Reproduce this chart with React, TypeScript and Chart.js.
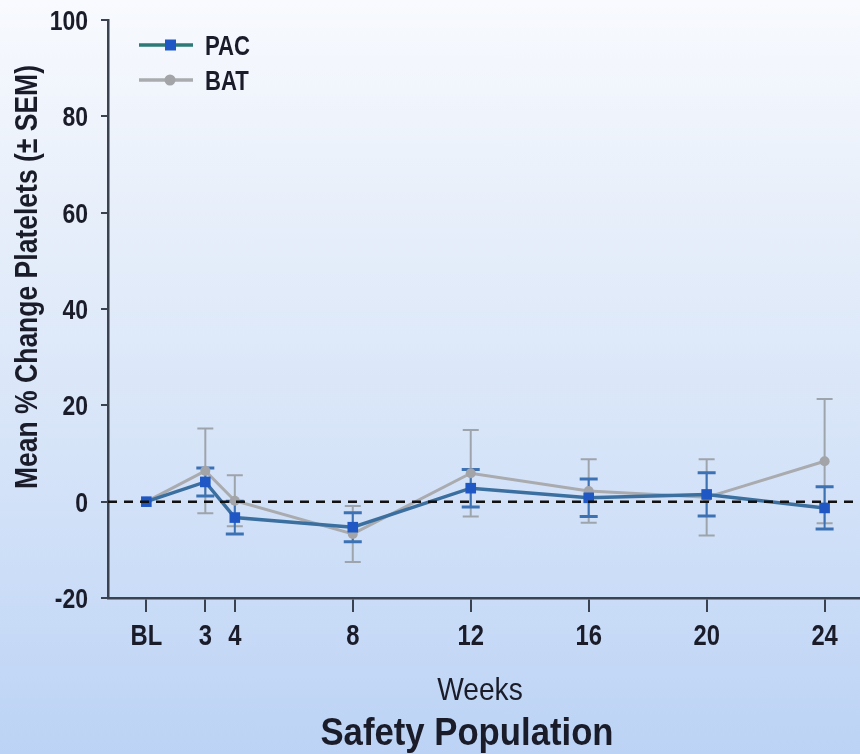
import { useEffect, useRef } from "react";
import { Chart, registerables } from "chart.js";

Chart.register(...registerables);

// Visit labels and where each one sits on the week axis (baseline is plotted at week 1)
const weekLabels = ["BL", "3", "4", "8", "12", "16", "20", "24"];
const weekAxisValues = [1, 3, 4, 8, 12, 16, 20, 24];

// Mean % change in platelets from baseline, with SEM
const pacMean = [0, 4.1, -3.3, -5.3, 2.8, 0.8, 1.5, -1.3];
const pacSem = [0, 2.9, 3.4, 3.0, 3.9, 3.9, 4.5, 4.4];
const batMean = [0, 6.4, 0.2, -6.7, 5.9, 2.2, 0.9, 8.4];
const batSem = [0, 8.8, 5.3, 5.8, 9.0, 6.6, 7.9, 12.9];

const yTicks = [-20, 0, 20, 40, 60, 80, 100];

const SANS = '"Liberation Sans", Arial, sans-serif';
const INK = "#1b1c2a";
const AXIS = "#39424e";

const PAC_LINE = "#3b6f9f";
const PAC_MARK = "#1f58c4";
const PAC_ERR = "#3c72b4";
const BAT_LINE = "#a9abae";
const BAT_MARK = "#a2a4a8";
const BAT_ERR = "#9ea4ab";

// draws horizontally condensed text at (x, y), optionally rotated
function narrowText(
  ctx: CanvasRenderingContext2D,
  text: string,
  x: number,
  y: number,
  font: string,
  align: CanvasTextAlign,
  squeeze: number,
  rotate = 0
) {
  ctx.save();
  ctx.font = font;
  ctx.fillStyle = INK;
  ctx.textAlign = align;
  ctx.textBaseline = "alphabetic";
  ctx.translate(x, y);
  if (rotate) ctx.rotate(rotate);
  ctx.scale(squeeze, 1);
  ctx.fillText(text, 0, 0);
  ctx.restore();
}

const errorBars = {
  id: "errorBars",
  beforeDatasetsDraw(chart: any) {
    const { ctx } = chart;
    const y = chart.scales.y;
    const sets = chart.data.datasets;
    for (let i = sets.length - 1; i >= 0; i--) {
      const ds = sets[i];
      const meta = chart.getDatasetMeta(i);
      ctx.save();
      ctx.strokeStyle = ds.errColor;
      meta.data.forEach((pt: any, j: number) => {
        const sem = ds.sem[j];
        if (!sem) return;
        const mean = ds.data[j].y;
        const top = y.getPixelForValue(mean + sem);
        const bot = y.getPixelForValue(mean - sem);
        ctx.lineWidth = 2;
        ctx.beginPath();
        ctx.moveTo(pt.x, top);
        ctx.lineTo(pt.x, bot);
        ctx.stroke();
        ctx.lineWidth = ds.capWidth;
        ctx.beginPath();
        ctx.moveTo(pt.x - ds.capHalf, top);
        ctx.lineTo(pt.x + ds.capHalf, top);
        ctx.moveTo(pt.x - ds.capHalf, bot);
        ctx.lineTo(pt.x + ds.capHalf, bot);
        ctx.stroke();
      });
      ctx.restore();
    }
  },
};

const zeroLine = {
  id: "zeroLine",
  afterDatasetsDraw(chart: any) {
    const { ctx, chartArea } = chart;
    const py = chart.scales.y.getPixelForValue(0);
    ctx.save();
    ctx.strokeStyle = "#111111";
    ctx.lineWidth = 2.5;
    ctx.setLineDash([9, 7]);
    ctx.beginPath();
    ctx.moveTo(chartArea.left, py);
    ctx.lineTo(chartArea.right, py);
    ctx.stroke();
    ctx.restore();
  },
};

const labels = {
  id: "labels",
  afterDraw(chart: any) {
    const { ctx, chartArea } = chart;
    const xs = chart.scales.x;
    const ys = chart.scales.y;

    // y tick labels
    yTicks.forEach((v) => {
      narrowText(ctx, String(v), chartArea.left - 20, ys.getPixelForValue(v) + 10, `bold 28px ${SANS}`, "right", 0.82);
    });
    // x tick labels
    weekAxisValues.forEach((v, i) => {
      narrowText(ctx, weekLabels[i], xs.getPixelForValue(v), chartArea.bottom + 47, `bold 29px ${SANS}`, "center", 0.82);
    });

    narrowText(ctx, "Weeks", 480, chartArea.bottom + 102, `32px ${SANS}`, "center", 0.88);
    narrowText(ctx, "Safety Population", 467, chartArea.bottom + 147, `bold 39px ${SANS}`, "center", 0.89);

    // rotated y-axis title
    narrowText(ctx, "Mean % Change Platelets (± SEM)", 37, chartArea.top + 257, `bold 31px ${SANS}`, "center", 0.855, -Math.PI / 2);

    // legend in the upper-left corner of the plot
    const lx = chartArea.left + 31;
    const rows = [
      { name: chart.data.datasets[0].label, line: "#2b7a78", mark: PAC_MARK, rect: true, dy: 25 },
      { name: chart.data.datasets[1].label, line: BAT_LINE, mark: BAT_MARK, rect: false, dy: 60 },
    ];
    rows.forEach((r) => {
      const ry = chartArea.top + r.dy;
      ctx.save();
      ctx.strokeStyle = r.line;
      ctx.lineWidth = 3.5;
      ctx.beginPath();
      ctx.moveTo(lx, ry);
      ctx.lineTo(lx + 54, ry);
      ctx.stroke();
      ctx.fillStyle = r.mark;
      if (r.rect) {
        ctx.fillRect(lx + 26, ry - 5.5, 11, 11);
      } else {
        ctx.beginPath();
        ctx.arc(lx + 31, ry, 5.5, 0, Math.PI * 2);
        ctx.fill();
      }
      ctx.restore();
      narrowText(ctx, r.name, lx + 66, ry + 10, `bold 27px ${SANS}`, "left", 0.82);
    });
  },
};

export default function App() {
  const ref = useRef<HTMLCanvasElement | null>(null);

  useEffect(() => {
    document.body.style.margin = "0";
    if (!ref.current) return;
    const chart = new Chart(ref.current, {
      type: "line",
      data: {
        datasets: [
          {
            label: "PAC",
            data: weekAxisValues.map((x, i) => ({ x, y: pacMean[i] })),
            borderColor: PAC_LINE,
            borderWidth: 3.5,
            pointStyle: "rect",
            pointRadius: 7.5,
            pointBackgroundColor: PAC_MARK,
            pointBorderColor: PAC_MARK,
            pointBorderWidth: 0,
            tension: 0,
            clip: false,
            sem: pacSem,
            errColor: PAC_ERR,
            capWidth: 3,
            capHalf: 9,
          } as any,
          {
            label: "BAT",
            data: weekAxisValues.map((x, i) => ({ x, y: batMean[i] })),
            borderColor: BAT_LINE,
            borderWidth: 3,
            pointStyle: "circle",
            pointRadius: 5,
            pointBackgroundColor: BAT_MARK,
            pointBorderColor: BAT_MARK,
            pointBorderWidth: 0,
            tension: 0,
            clip: false,
            sem: batSem,
            errColor: BAT_ERR,
            capWidth: 2,
            capHalf: 8,
          } as any,
        ],
      },
      options: {
        animation: false,
        responsive: false,
        layout: { autoPadding: false, padding: { top: 20, left: 0, right: 0, bottom: 0 } },
        plugins: {
          legend: { display: false },
          tooltip: { enabled: false },
        },
        scales: {
          x: {
            type: "linear",
            min: -0.3,
            max: 25.2,
            afterFit(scale: any) {
              scale.height = 156;
              scale.paddingLeft = 0;
              scale.paddingRight = 0;
            },
            afterBuildTicks(scale: any) {
              scale.ticks = weekAxisValues.map((v) => ({ value: v }));
            },
            ticks: { display: false },
            grid: {
              drawOnChartArea: false,
              drawTicks: true,
              tickLength: 14,
              color: AXIS,
              lineWidth: 2,
            },
            border: { display: true, color: AXIS, width: 2.5 },
          },
          y: {
            type: "linear",
            min: -20,
            max: 100,
            afterFit(scale: any) {
              scale.width = 108;
              scale.paddingTop = 0;
              scale.paddingBottom = 0;
            },
            afterBuildTicks(scale: any) {
              scale.ticks = yTicks.map((v) => ({ value: v }));
            },
            ticks: { display: false },
            grid: {
              drawOnChartArea: false,
              drawTicks: true,
              tickLength: 7,
              color: AXIS,
              lineWidth: 2,
            },
            border: { display: true, color: AXIS, width: 2.5 },
          },
        },
      },
      plugins: [errorBars, zeroLine, labels],
    });
    return () => chart.destroy();
  }, []);

  return (
    <div
      style={{
        width: 860,
        height: 754,
        background: "linear-gradient(to bottom, #f8fafe 0%, #e6eefa 30%, #d3e2f8 65%, #bcd3f5 100%)",
      }}
    >
      <canvas ref={ref} width={860} height={754} style={{ display: "block" }} />
    </div>
  );
}
